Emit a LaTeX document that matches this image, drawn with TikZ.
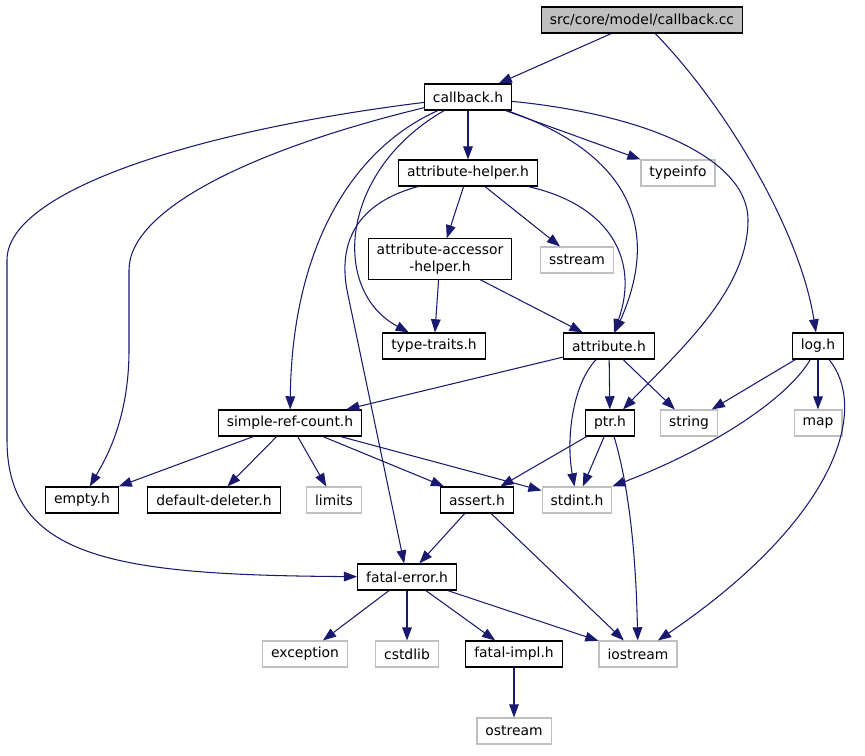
\documentclass[tikz,border=0pt]{standalone}
\usepackage{fontspec}
\setmainfont{DejaVu Sans}
\usetikzlibrary{arrows.meta}
\definecolor{edgeblue}{HTML}{191970}
\definecolor{boxgray}{HTML}{BFBFBF}
\begin{document}
\begin{tikzpicture}[
          x=0.02cm, y=-0.02cm,
          every node/.style={draw=black, line width=0.65pt, minimum height=0.52cm,
            inner xsep=0.17cm, inner ysep=0pt, font=\fontsize{7.9}{9.3}\selectfont},
          sys/.style={draw=boxgray},
          dep/.style={draw=edgeblue, line width=0.6pt, -{Triangle[length=7.5pt,width=5.5pt]}}
        ]
        \useasboundingbox (0,0) rectangle (865,755);

        % project headers
        \node[fill=boxgray] (cc) at (642,20) {src/core/model/callback.cc};
        \node (cbh) at (468,97) {callback.h};
        \node (ah) at (468,173) {attribute-helper.h};
        \node[align=center, inner ysep=3pt] (aah) at (440,259) {attribute-accessor\\-helper.h};
        \node (tt) at (434,346) {type-traits.h};
        \node (att) at (609,346) {attribute.h};
        \node (logh) at (818,346) {log.h};
        \node (src) at (290,423) {simple-ref-count.h};
        \node (ptrh) at (610,423) {ptr.h};
        \node (empty) at (82,500) {empty.h};
        \node (dd) at (214,500) {default-deleter.h};
        \node (assert) at (477,500) {assert.h};
        \node (fe) at (407,577) {fatal-error.h};
        \node (fi) at (514,654) {fatal-impl.h};

        % system headers
        \node[sys] (typeinfo) at (678,173) {typeinfo};
        \node[sys] (sstream) at (577,260) {sstream};
        \node[sys] (string) at (689,423) {string};
        \node[sys] (map) at (818,423) {map};
        \node[sys] (limits) at (334,500) {limits};
        \node[sys] (stdint) at (577,500) {stdint.h};
        \node[sys] (exception) at (305,654) {exception};
        \node[sys] (cstdlib) at (407,654) {cstdlib};
        \node[sys] (iostream) at (638,654) {iostream};
        \node[sys] (ostream) at (514,731) {ostream};

        \draw[dep] (cc) -- (cbh);
        \draw[dep] (cc) .. controls (725,105) and (800,230) .. (logh);

        \draw[dep] (cbh) -- (ah);
        \draw[dep] (cbh) -- (typeinfo);
        \draw[dep] (cbh) .. controls (340,170) and (330,290) .. (tt);
        \draw[dep] (cbh) .. controls (620,150) and (665,220) .. (att);
        \draw[dep] (cbh) .. controls (650,115) and (748,160) .. (748,220)
            .. controls (748,290) and (680,350) .. (ptrh);
        \draw[dep] (cbh) .. controls (350,150) and (292,250) .. (src);
        \draw[dep] (cbh) .. controls (250,150) and (129,210) .. (129,270) -- (129,350)
            .. controls (129,420) and (105,460) .. (empty);
        \draw[dep] (cbh) .. controls (200,130) and (7,190) .. (7,260) -- (7,440)
            .. controls (7,560) and (120,575) .. (fe);

        \draw[dep] (ah) -- (aah);
        \draw[dep] (ah) -- (sstream);
        \draw[dep] (ah) .. controls (610,205) and (640,260) .. (att);
        \draw[dep] (ah) .. controls (350,205) and (338,250) .. (348,295) -- (fe);

        \draw[dep] (aah) -- (tt);
        \draw[dep] (aah) -- (att);

        \draw[dep] (att) -- (src);
        \draw[dep] (att) -- (ptrh);
        \draw[dep] (att) -- (string);
        \draw[dep] (att) .. controls (572,385) and (566,440) .. (stdint);

        \draw[dep] (logh) -- (string);
        \draw[dep] (logh) -- (map);
        \draw[dep] (logh) .. controls (790,395) and (720,445) .. (stdint);
        \draw[dep] (logh) .. controls (870,410) and (835,520) .. (iostream);

        \draw[dep] (src) -- (empty);
        \draw[dep] (src) -- (dd);
        \draw[dep] (src) -- (limits);
        \draw[dep] (src) -- (assert);
        \draw[dep] (src) -- (stdint);

        \draw[dep] (ptrh) -- (assert);
        \draw[dep] (ptrh) -- (stdint);
        \draw[dep] (ptrh) .. controls (630,490) and (636,560) .. (iostream);

        \draw[dep] (assert) -- (fe);
        \draw[dep] (assert) -- (iostream);

        \draw[dep] (fe) -- (exception);
        \draw[dep] (fe) -- (cstdlib);
        \draw[dep] (fe) -- (fi);
        \draw[dep] (fe) -- (iostream);

        \draw[dep] (fi) -- (ostream);
\end{tikzpicture}
\end{document}
